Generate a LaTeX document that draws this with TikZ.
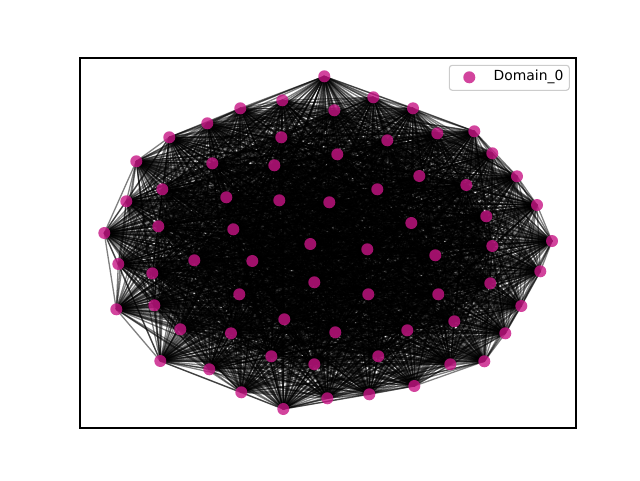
\documentclass[tikz,border=0pt]{standalone}
\usepackage{fontspec}
\setmainfont{DejaVu Sans}
\definecolor{nodemv}{RGB}{199,21,133}
\begin{document}
\begin{tikzpicture}[x=1pt,y=-1pt,
  edgeline/.style={draw=black,line width=1.3pt,opacity=0.5},
  gnode/.style={circle,inner sep=0pt,minimum size=12pt,fill=nodemv,fill opacity=0.8,draw=none},
  framebox/.style={draw=black,line width=1.1pt},
  legendbox/.style={draw=black!20,line width=1.1pt,rounded corners=3pt,fill=white,fill opacity=0.8}]
\useasboundingbox (0,0) rectangle (640,480);
\foreach \k/\x/\y in {1/324.3/76.3,2/373.3/97.3,3/413/108.3,4/474.3/131.3,5/492.3/153.3,6/517/176.3,7/537/205,8/552/241,9/540.3/271.3,10/521.3/306,11/505.3/333.3,12/484.3/361.3,13/450.3/364.3,14/414.3/386,15/369.3/394.3,16/327.3/398.3,17/283.3/409,18/241.3/392.3,19/209.3/369.3,20/160.3/361,21/116.3/309.3,22/118.3/264,23/104.3/233,24/126.3/201.3,25/136.3/161.3,26/169.3/137.3,27/207.3/123.3,28/240.3/108.3,29/282.3/100.3,30/334.3/110.3,31/437.3/133.3,32/387.3/140.3,33/281.3/137.3,34/212.3/163.3,35/162.3/189.3,36/158.3/226.3,37/152.3/273.3,38/154.3/305.3,39/180.3/329.3,40/231/333.3,41/271.3/356.3,42/314.3/364.3,43/378.3/356.3,44/407.3/330.3,45/454.3/321.3,46/490.3/283.3,47/492.3/246,48/486.3/216.3,49/466.3/185,50/419.3/176,51/337.3/154.3,52/274.3/165.3,53/226.3/197.3,54/233.3/229.3,55/279.3/200.3,56/329.3/202.3,57/377.3/189.3,58/411.3/223,59/435.3/255.3,60/438.3/294.3,61/368.3/294.3,62/335.3/332.3,63/284.3/319.3,64/239.3/294.3,65/194.3/260.3,66/252.3/261,67/310.3/244,68/367.3/249.3,69/314.3/282.3}
  {\coordinate (p\k) at (\x,\y);}
\foreach \i in {1,...,68}{
  \pgfmathtruncatemacro{\js}{\i+1}
  \foreach \j in {\js,...,69}{
    \draw[edgeline] (p\i) -- (p\j);
  }
}
\foreach \k in {1,...,69}{\node[gnode] (n\k) at (p\k) {};}
\draw[framebox] (80,58) rectangle (576,428);
\draw[legendbox] (449.3,65.3) rectangle (569.3,90.3);
\node[gnode] (lm) at (469.3,77.3) {};
\node[anchor=west,inner sep=0pt,font=\fontsize{13.9}{16}\selectfont] (lt) at (493.5,77.3) {Domain\_0};
\end{tikzpicture}
\end{document}
